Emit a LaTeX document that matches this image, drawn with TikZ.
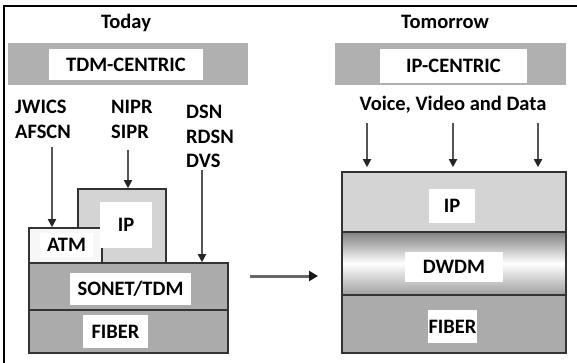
\documentclass[tikz,border=0pt]{standalone}
\usepackage{fontspec}
\setmainfont{Carlito}
\usetikzlibrary{arrows.meta}
\definecolor{bargray}{HTML}{B0B0B0}
\definecolor{midgray}{HTML}{ABABAB}
\definecolor{lightgray}{HTML}{D4D4D4}
\definecolor{edge}{HTML}{333333}
\definecolor{shaft}{HTML}{555555}
\tikzset{
  lbl/.style={font=\fontsize{20.5}{24}\selectfont\bfseries, text=black, inner sep=0pt},
  wbox/.style={fill=white, draw=none, inner sep=0pt, font=\fontsize{20.5}{24}\selectfont\bfseries},
  layer/.style={draw=edge, line width=1.6pt, inner sep=0pt},
  bar/.style={fill=bargray, draw=none, inner sep=0pt},
  arr/.style={draw=shaft, line width=1.8pt, -{Triangle[length=8pt,width=8pt,color=black!85]}},
}
\begin{document}
\begin{tikzpicture}[x=1pt,y=-1pt]
\useasboundingbox (0,0) rectangle (577,363);
% frame
\draw[line width=1.4pt, black] (4,363) -- (4,6) -- (577,6);

% ---------- Today ----------
\node[lbl] (today) at (126,23) {Today};
\node[bar, minimum width=240pt, minimum height=42pt] (tdmbar) at (128,64) {};
\node[wbox, minimum width=154pt, minimum height=31pt] (tdm) at (126,64.5) {TDM-CENTRIC};

\node[lbl, anchor=west, align=left] (jw) at (15,106.5) {JWICS};
\node[lbl, anchor=west] (af) at (15,131.5) {AFSCN};
\node[lbl, anchor=west] (ni) at (111,107) {NIPR};
\node[lbl, anchor=west] (si) at (111,132) {SIPR};
\node[lbl, anchor=west] (dsn) at (186,111.5) {DSN};
\node[lbl, anchor=west] (rdsn) at (186,136.5) {RDSN};
\node[lbl, anchor=west] (dvs) at (186,160.5) {DVS};

% lower stack
\node[layer, fill=midgray, minimum width=199pt, minimum height=47pt] (sonet) at (128.5,286.5) {};
\node[layer, fill=midgray, minimum width=199pt, minimum height=43pt] (fiberL) at (128.5,331.5) {};
\node[layer, fill=lightgray, minimum width=88pt, minimum height=74pt] (ipL) at (122,226) {};
\node[layer, fill=white!97!black, minimum width=73pt, minimum height=35pt] (atm) at (65.5,245.5) {};

\node[wbox, minimum width=52pt, minimum height=46pt] (ipLt) at (126,225) {IP};
\node[wbox, minimum width=53pt, minimum height=24pt] (atmt) at (66.5,245) {ATM};
\node[wbox, minimum width=121pt, minimum height=32pt] (sonett) at (130.5,289) {SONET/TDM};
\node[wbox, minimum width=65pt, minimum height=33pt] (fiberLt) at (115.5,331.5) {FIBER};

\coordinate (s1) at (52,147);
\coordinate (s2) at (128,150);
\coordinate (s3) at (202,170);
\draw[arr] (s1) -- (s1 |- atm.north);
\draw[arr] (s2) -- (s2 |- ipL.north);
\draw[arr] (s3) -- (s3 |- sonet.north);

% ---------- transition arrow ----------
\coordinate (ta) at (250,276);
\coordinate (tb) at (318,276);
\draw[draw=black!60, line width=3pt, -{Triangle[length=9pt,width=10pt,color=black!90]}] (ta) -- (tb);

% ---------- Tomorrow ----------
\node[lbl] (tomorrow) at (445,22) {Tomorrow};
\node[bar, minimum width=231pt, minimum height=42pt] (ipbar) at (450.5,64) {};
\node[wbox, minimum width=147pt, minimum height=34pt] (ipc) at (453.5,66) {IP-CENTRIC};
\node[lbl] (vvd) at (453,105) {Voice, Video and Data};

\node[layer, fill=lightgray, minimum width=224pt, minimum height=60pt] (ipR) at (454,202) {};
\node[layer, minimum width=224pt, minimum height=63pt,
      top color=black!50, bottom color=black!38, middle color=white] (dwdm) at (454,263.5) {};
\node[layer, fill=midgray, minimum width=224pt, minimum height=58pt] (fiberR) at (454,324) {};

\node[wbox, minimum width=46pt, minimum height=34pt] (ipRt) at (452,206) {IP};
\node[wbox, minimum width=98pt, minimum height=30pt] (dwdmt) at (454,267) {DWDM};
\node[wbox, minimum width=49pt, minimum height=33pt] (fiberRt) at (452.5,326.5) {FIBER};

\coordinate (r1) at (367,123);
\coordinate (r2) at (453,123);
\coordinate (r3) at (538,123);
\draw[arr] (r1) -- ([yshift=4pt]r1 |- ipR.north);
\draw[arr] (r2) -- ([yshift=4pt]r2 |- ipR.north);
\draw[arr] (r3) -- ([yshift=4pt]r3 |- ipR.north);
\end{tikzpicture}
\end{document}
